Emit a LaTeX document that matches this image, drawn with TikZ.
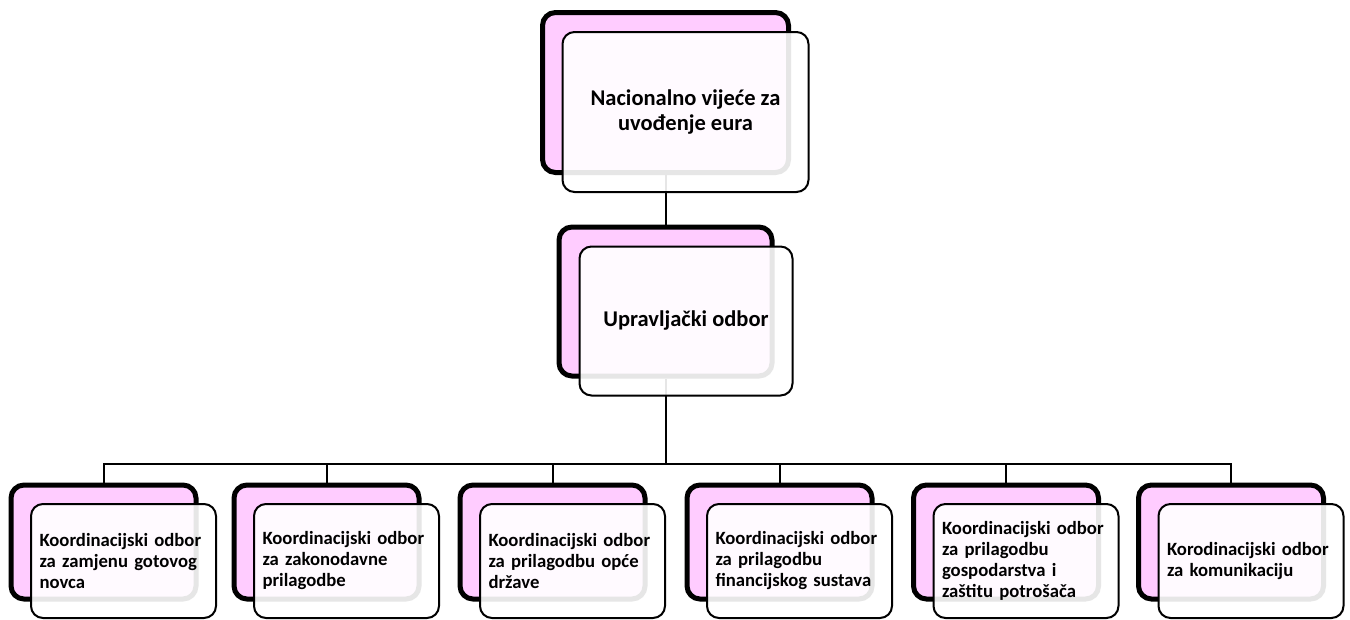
\documentclass[tikz,border=0pt]{standalone}
\usepackage{fontspec}
\setmainfont{Carlito}
\begin{document}
\begin{tikzpicture}[x=1pt,y=-1pt,
  backbox/.style={draw=black, line width=5pt, fill=pinkfill, rounded corners=13pt},
  frontbox/.style={draw=black, line width=2pt, fill=white, fill opacity=0.9, text opacity=1, rounded corners=12pt},
  conn/.style={draw=black, line width=2pt},
  bigtxt/.style={font=\fontsize{22.5}{25}\selectfont\bfseries, align=center},
  smalltxt/.style={font=\fontsize{18.7}{21}\selectfont\bfseries, align=left, text width=168pt, inner xsep=8.5pt},
  topsize/.style={minimum width=246pt, minimum height=160pt, inner sep=0pt},
  midsize/.style={minimum width=213pt, minimum height=149pt, inner sep=0pt},
  botsize/.style={minimum width=185pt, minimum height=114pt},
]
\definecolor{pinkfill}{HTML}{FFCCFF}
\useasboundingbox (0,0) rectangle (1350,619);
\fill[white] (0,0) rectangle (1350,619);

% back boxes
\node[backbox, topsize] (tb) at (665.5,92.5) {};
\node[backbox, midsize] (mb) at (665.5,301.5) {};
\node[backbox, botsize] (b1) at (103.5,542) {};
\node[backbox, botsize] (b2) at (326.5,542) {};
\node[backbox, botsize] (b3) at (552.5,542) {};
\node[backbox, botsize] (b4) at (779.5,542) {};
\node[backbox, botsize] (b5) at (1006,542) {};
\node[backbox, botsize] (b6) at (1231,542) {};

% connectors
\coordinate (bus) at (665.5,464);
\draw[conn] (tb.south) -- (mb.north);
\draw[conn] (mb.south) -- (bus);
\foreach \i in {1,...,6} {\draw[conn] (bus) -| (b\i.north);}

% front boxes
\node[frontbox, topsize, bigtxt] (tf) at (685.5,112) {Nacionalno vijeće za\\uvođenje eura};
\node[frontbox, midsize, bigtxt] (mf) at (686,321) {Upravljački odbor};
\node[frontbox, botsize, smalltxt] (f1) at (123.5,561) {Koordinacijski odbor\\za zamjenu gotovog\\novca};
\node[frontbox, botsize, smalltxt] (f2) at (346.5,561) {Koordinacijski odbor\\za zakonodavne\\prilagodbe};
\node[frontbox, botsize, smalltxt] (f3) at (572.5,561) {Koordinacijski odbor\\za prilagodbu opće\\države};
\node[frontbox, botsize, smalltxt] (f4) at (799.5,561) {Koordinacijski odbor\\za prilagodbu\\financijskog sustava};
\node[frontbox, botsize, smalltxt] (f5) at (1026,561) {Koordinacijski odbor\\za prilagodbu\\gospodarstva i\\zaštitu potrošača};
\node[frontbox, botsize, smalltxt] (f6) at (1251,561) {Korodinacijski odbor\\za komunikaciju};
\end{tikzpicture}
\end{document}
